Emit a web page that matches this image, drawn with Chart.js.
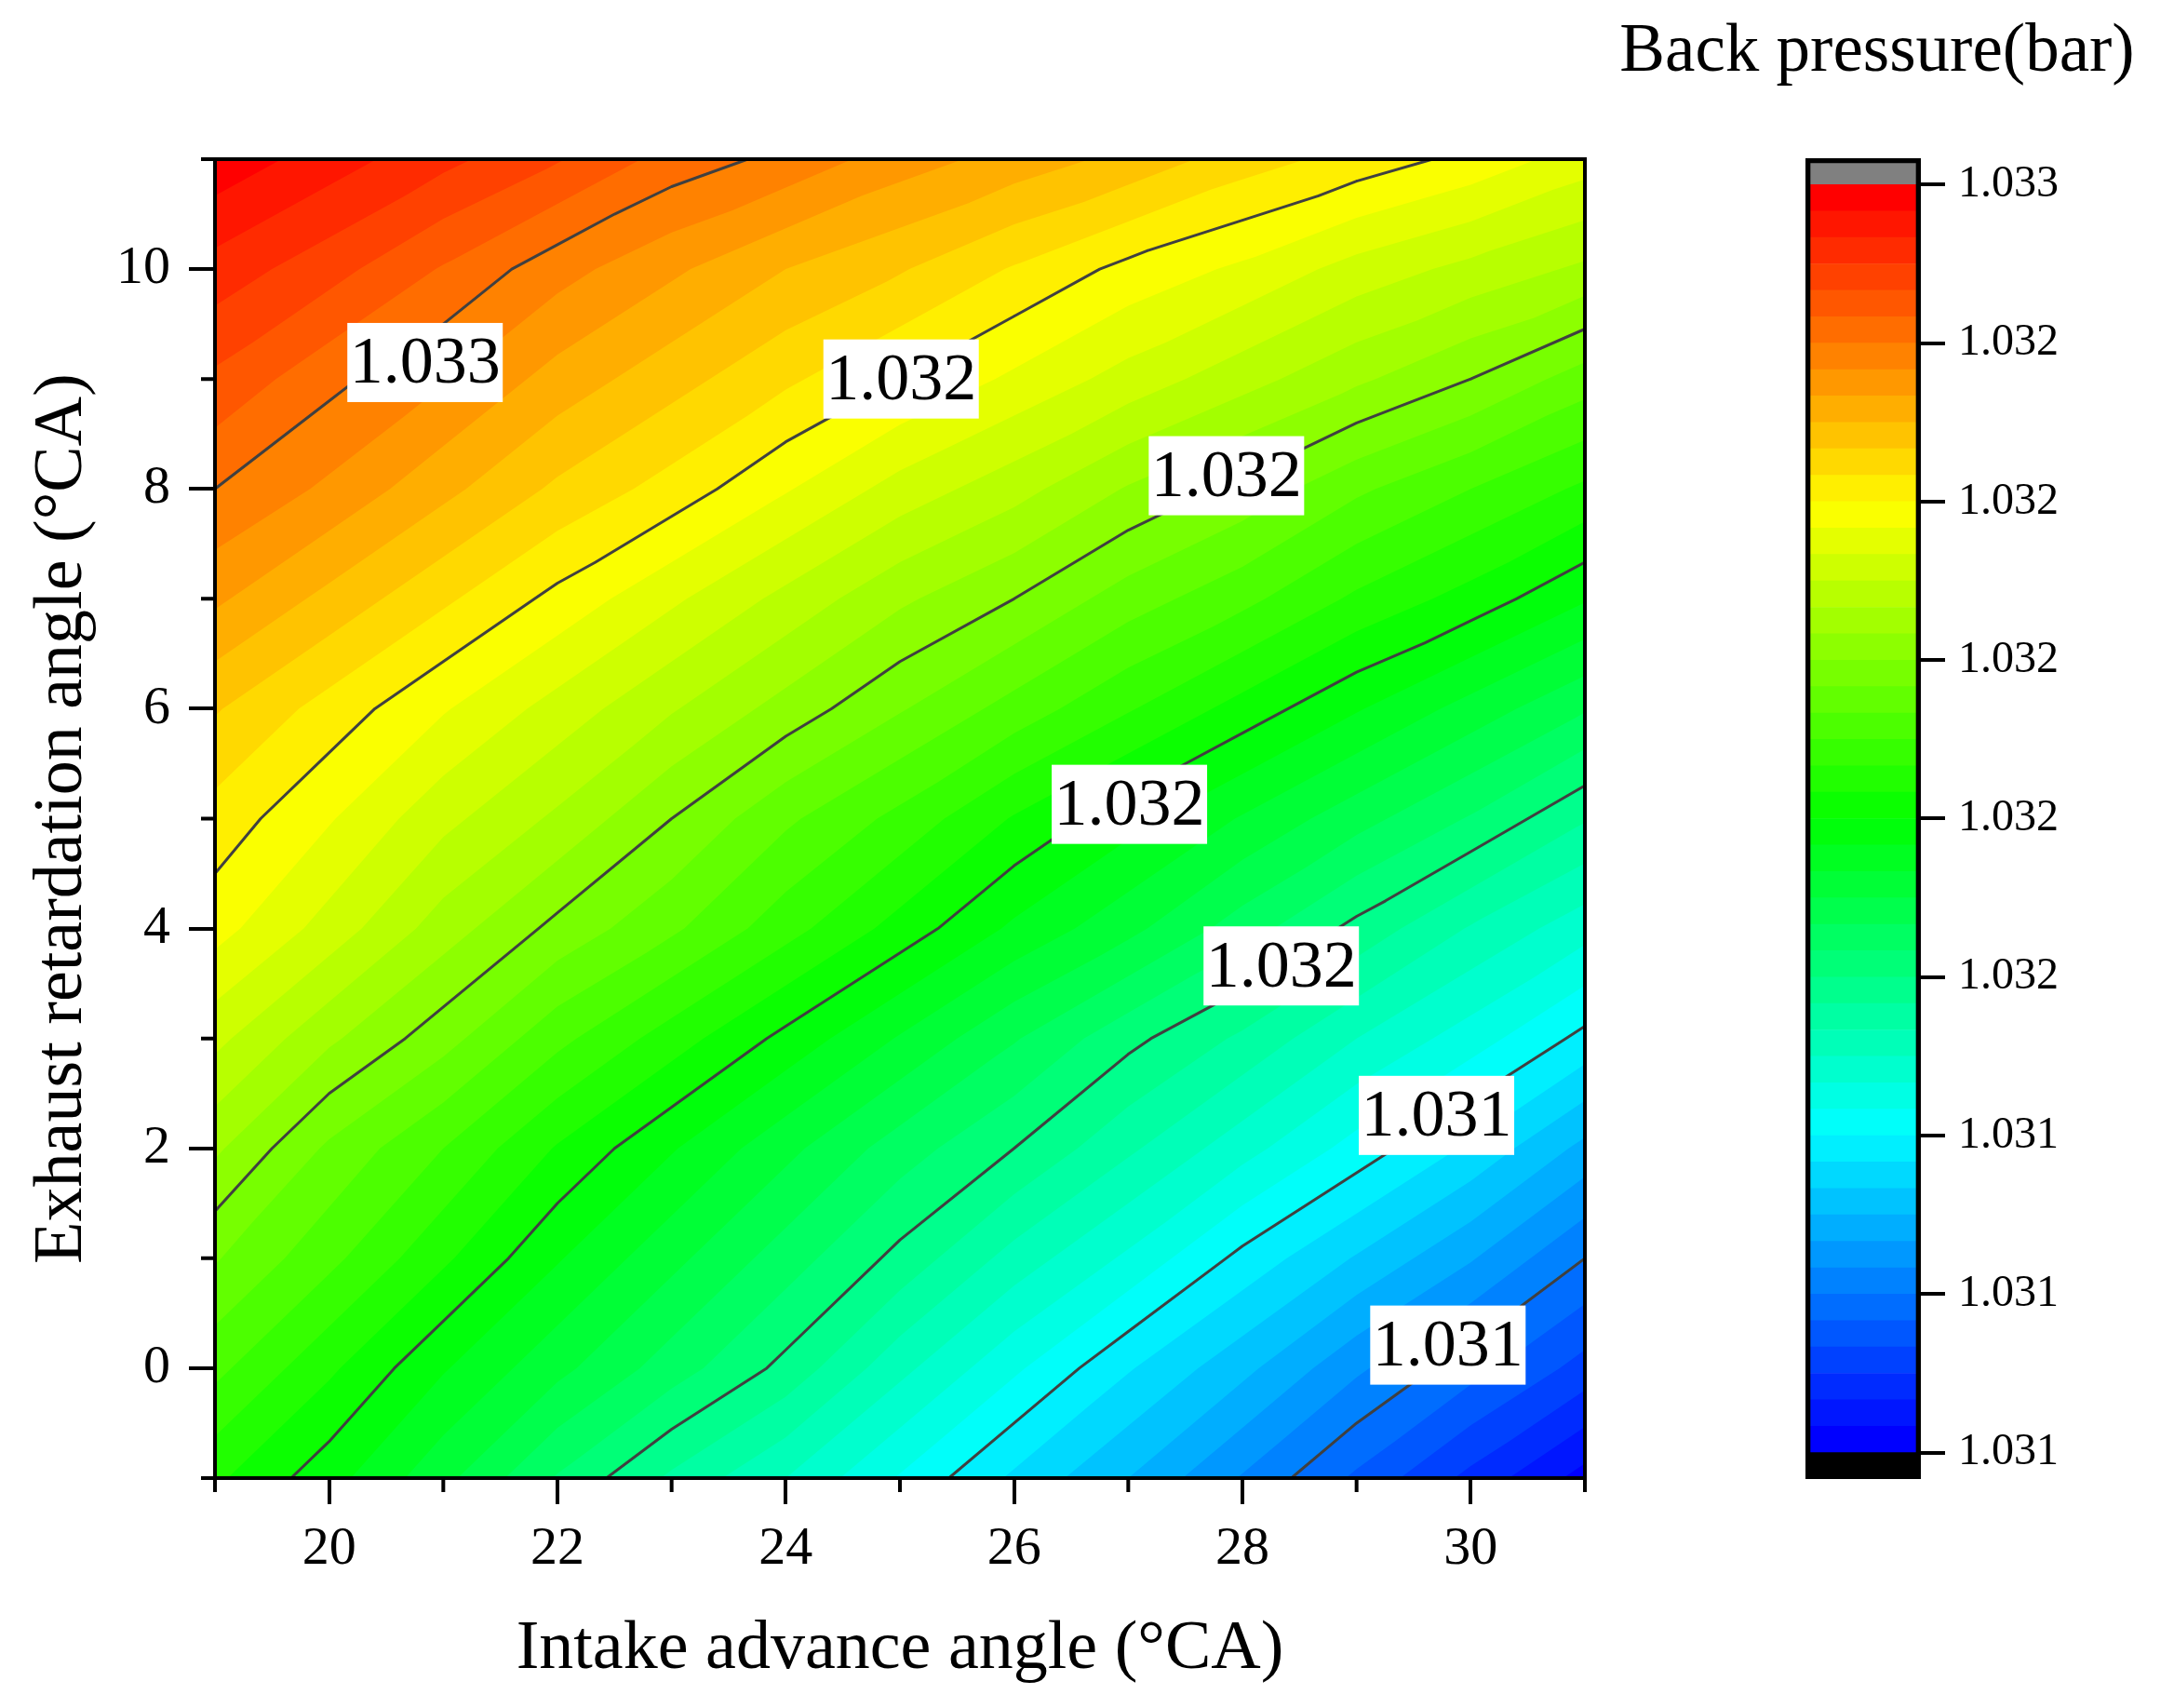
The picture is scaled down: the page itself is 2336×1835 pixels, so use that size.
<!DOCTYPE html>
<html>
<head>
<meta charset="utf-8">
<title>Back pressure contour</title>
<script src="https://cdn.jsdelivr.net/npm/chart.js@4.4.1/dist/chart.umd.min.js"></script>
<style>
  html, body { margin: 0; padding: 0; background: #fff; }
  #wrap { position: relative; width: 2336px; height: 1835px; overflow: hidden; }
  #plotCanvas { position: absolute; left: 0; top: 0; }
  #barCanvas { position: absolute; left: 1700px; top: 0; }
</style>
</head>
<body>
<div id="wrap">
  <canvas id="plotCanvas" width="1800" height="1835"></canvas>
  <canvas id="barCanvas" width="636" height="1835"></canvas>
</div>
<script>
// grid axes
const intakeAngles = [19, 20, 21, 22, 23, 24, 25, 26, 27, 28, 29, 30, 31];
const exhaustAngles = [-1, 0, 1, 2, 3, 4, 5, 6, 7, 8, 9, 10, 11];

// back pressure (bar), one row per exhaust angle, columns follow intakeAngles
const backPressure = [
    [1.03184, 1.03178, 1.03171, 1.03163, 1.03156, 1.03150, 1.03143, 1.03136, 1.03130, 1.03123, 1.03116, 1.03109, 1.03102], // -1
    [1.03191, 1.03184, 1.03177, 1.03171, 1.03165, 1.03159, 1.03151, 1.03144, 1.03137, 1.03131, 1.03124, 1.03118, 1.03112], // 0
    [1.03197, 1.03191, 1.03184, 1.03177, 1.03171, 1.03165, 1.03159, 1.03152, 1.03146, 1.03139, 1.03133, 1.03127, 1.03120], // 1
    [1.03204, 1.03196, 1.03190, 1.03183, 1.03177, 1.03171, 1.03165, 1.03160, 1.03154, 1.03148, 1.03142, 1.03136, 1.03129], // 2
    [1.03211, 1.03204, 1.03198, 1.03191, 1.03185, 1.03179, 1.03173, 1.03167, 1.03161, 1.03156, 1.03150, 1.03145, 1.03139], // 3
    [1.03218, 1.03212, 1.03205, 1.03199, 1.03194, 1.03188, 1.03182, 1.03176, 1.03171, 1.03165, 1.03159, 1.03153, 1.03148], // 4
    [1.03222, 1.03217, 1.03211, 1.03206, 1.03200, 1.03194, 1.03189, 1.03183, 1.03178, 1.03173, 1.03168, 1.03163, 1.03157], // 5
    [1.03227, 1.03222, 1.03217, 1.03212, 1.03207, 1.03202, 1.03197, 1.03192, 1.03187, 1.03182, 1.03177, 1.03172, 1.03167], // 6
    [1.03234, 1.03229, 1.03224, 1.03219, 1.03214, 1.03209, 1.03204, 1.03200, 1.03195, 1.03191, 1.03186, 1.03182, 1.03177], // 7
    [1.03240, 1.03236, 1.03231, 1.03226, 1.03222, 1.03217, 1.03212, 1.03208, 1.03203, 1.03199, 1.03194, 1.03190, 1.03186], // 8
    [1.03246, 1.03241, 1.03237, 1.03232, 1.03228, 1.03224, 1.03220, 1.03216, 1.03212, 1.03208, 1.03204, 1.03200, 1.03195], // 9
    [1.03252, 1.03248, 1.03243, 1.03238, 1.03234, 1.03230, 1.03227, 1.03223, 1.03219, 1.03216, 1.03212, 1.03209, 1.03206], // 10
    [1.03259, 1.03255, 1.03251, 1.03247, 1.03242, 1.03239, 1.03235, 1.03232, 1.03229, 1.03225, 1.03222, 1.03219, 1.03215]  // 11
];

// axis ticks
const xMajorTicks = [20, 22, 24, 26, 28, 30];
const xMinorTicks = [19, 21, 23, 25, 27, 29, 31];
const yMajorTicks = [0, 2, 4, 6, 8, 10];
const yMinorTicks = [-1, 1, 3, 5, 7, 9, 11];

// contour lines and their labels
const lineLevels = [1.0312, 1.0314, 1.0316, 1.0318, 1.0320, 1.0322, 1.0324];
const lineLabelText = ['1.031', '1.031', '1.032', '1.032', '1.032', '1.032', '1.033'];
const lineLabelX = [29.80, 29.70, 28.34, 27.01, 27.86, 25.01, 20.84];
const lineLabelY = [0.21, 2.30, 3.66, 5.13, 8.12, 9.00, 9.15];

// color scale
const colorMin = 1.0310;
const colorMax = 1.0326;
const colorLevels = 48;
const scaleTickValues = [1.0310, 1.0312, 1.0314, 1.0316, 1.0318, 1.0320, 1.0322, 1.0324, 1.0326];
const scaleTickLabels = ['1.031', '1.031', '1.031', '1.032', '1.032', '1.032', '1.032', '1.032', '1.033'];
const mapStops = [0, 0.25, 0.5, 0.75, 1];
const mapColors = [[0, 0, 255], [0, 255, 255], [0, 255, 0], [255, 255, 0], [255, 0, 0]];

const FONT = 'Liberation Serif';
const levelStep = (colorMax - colorMin) / colorLevels;

function mapColor(t) {
    let i = 0;
    while (i < mapStops.length - 2 && t > mapStops[i + 1]) i++;
    const f = Math.min(1, Math.max(0, (t - mapStops[i]) / (mapStops[i + 1] - mapStops[i])));
    const c = mapColors[i].map((v, k) => Math.round(v + f * (mapColors[i + 1][k] - v)));
    return `rgb(${c[0]}, ${c[1]}, ${c[2]})`;
}
const bandColor = k => mapColor(k / (colorLevels - 1));

// triangles of the grid
const triangles = [];
for (let j = 0; j < exhaustAngles.length - 1; j++) {
    for (let i = 0; i < intakeAngles.length - 1; i++) {
        const p = (ii, jj) => ({ x: intakeAngles[ii], y: exhaustAngles[jj], z: backPressure[jj][ii] });
        const a = p(i, j), b = p(i + 1, j), c = p(i + 1, j + 1), d = p(i, j + 1);
        triangles.push([a, b, c], [a, c, d]);
    }
}

// part of a triangle where value >= level
function clipAbove(tri, level) {
    const out = [];
    for (let k = 0; k < tri.length; k++) {
        const p = tri[k], q = tri[(k + 1) % tri.length];
        const pin = p.z >= level, qin = q.z >= level;
        if (pin) out.push(p);
        if (pin !== qin) {
            const t = (level - p.z) / (q.z - p.z);
            out.push({ x: p.x + t * (q.x - p.x), y: p.y + t * (q.y - p.y) });
        }
    }
    return out;
}

// contour segments for one level, separated by gaps
function contourPoints(level) {
    const pts = [];
    triangles.forEach(tri => {
        const seg = [];
        for (let k = 0; k < 3; k++) {
            const p = tri[k], q = tri[(k + 1) % 3];
            if ((p.z >= level) !== (q.z >= level)) {
                const t = (level - p.z) / (q.z - p.z);
                seg.push({ x: p.x + t * (q.x - p.x), y: p.y + t * (q.y - p.y) });
            }
        }
        if (seg.length === 2) pts.push(seg[0], seg[1], { x: null, y: null });
    });
    return pts;
}

// filled contour bands
const contourFill = {
    id: 'contourFill',
    beforeDatasetsDraw(chart) {
        const { ctx, chartArea: a, scales: { x, y } } = chart;
        ctx.save();
        ctx.beginPath();
        ctx.rect(a.left, a.top, a.width, a.height);
        ctx.clip();
        ctx.fillStyle = '#000';
        ctx.fillRect(a.left, a.top, a.width, a.height);
        for (let k = 0; k <= colorLevels; k++) {
            const level = colorMin + k * levelStep;
            ctx.beginPath();
            triangles.forEach(tri => {
                const poly = clipAbove(tri, level);
                if (poly.length < 3) return;
                poly.forEach((pt, n) => {
                    const px = x.getPixelForValue(pt.x), py = y.getPixelForValue(pt.y);
                    if (n === 0) ctx.moveTo(px, py); else ctx.lineTo(px, py);
                });
                ctx.closePath();
            });
            ctx.fillStyle = k === colorLevels ? 'rgb(128, 128, 128)' : bandColor(k);
            ctx.fill();
        }
        ctx.restore();
    }
};

// labels on contour lines, frame and minor ticks
const plotDecor = {
    id: 'plotDecor',
    afterDatasetsDraw(chart) {
        const { ctx, scales: { x, y } } = chart;
        ctx.save();
        ctx.font = `72px "${FONT}"`;
        ctx.textAlign = 'center';
        ctx.textBaseline = 'middle';
        lineLabelText.forEach((txt, i) => {
            const px = x.getPixelForValue(lineLabelX[i]);
            const py = y.getPixelForValue(lineLabelY[i]);
            const w = 167, h = 85;
            ctx.fillStyle = '#fff';
            ctx.fillRect(px - w / 2, py - h / 2, w, h);
            ctx.fillStyle = '#000';
            ctx.fillText(txt, px, py + 3);
        });
        ctx.restore();
    },
    afterDraw(chart) {
        const { ctx, chartArea: a, scales: { x, y } } = chart;
        ctx.save();
        ctx.strokeStyle = '#000';
        ctx.lineWidth = 4;
        ctx.strokeRect(a.left, a.top, a.width, a.height);
        ctx.beginPath();
        xMinorTicks.forEach(v => {
            const px = x.getPixelForValue(v);
            ctx.moveTo(px, a.bottom);
            ctx.lineTo(px, a.bottom + 15);
        });
        yMinorTicks.forEach(v => {
            const py = y.getPixelForValue(v);
            ctx.moveTo(a.left - 15, py);
            ctx.lineTo(a.left, py);
        });
        ctx.stroke();
        ctx.restore();
    }
};

const plotChart = new Chart(document.getElementById('plotCanvas'), {
    type: 'scatter',
    data: {
        datasets: lineLevels.map(level => ({
            data: contourPoints(level),
            showLine: true,
            spanGaps: false,
            borderColor: 'rgb(64, 64, 64)',
            borderWidth: 3,
            borderCapStyle: 'round',
            borderJoinStyle: 'round',
            pointRadius: 0
        }))
    },
    options: {
        responsive: false,
        animation: false,
        layout: { padding: { left: 23, top: 171, right: 97, bottom: 0 } },
        plugins: { legend: { display: false }, tooltip: { enabled: false } },
        scales: {
            x: {
                type: 'linear', min: 19, max: 31,
                afterBuildTicks: s => { s.ticks = xMajorTicks.map(v => ({ value: v })); },
                afterFit: s => { s.height = 247; },
                grid: { drawOnChartArea: false, drawTicks: true, tickLength: 28, lineWidth: 4, color: '#000' },
                border: { display: true, width: 4, color: '#000' },
                ticks: { font: { family: FONT, size: 58 }, color: '#000', padding: 14, maxRotation: 0 },
                title: { display: true, text: 'Intake advance angle (°CA)', font: { family: FONT, size: 74 }, color: '#000', padding: { top: 0, bottom: 18 } }
            },
            y: {
                type: 'linear', min: -1, max: 11,
                afterBuildTicks: s => { s.ticks = yMajorTicks.map(v => ({ value: v })); },
                afterFit: s => { s.width = 208; },
                grid: { drawOnChartArea: false, drawTicks: true, tickLength: 28, lineWidth: 4, color: '#000' },
                border: { display: true, width: 4, color: '#000' },
                ticks: { font: { family: FONT, size: 58 }, color: '#000', padding: 20 },
                title: { display: true, text: 'Exhaust retardation angle (°CA)', font: { family: FONT, size: 74 }, color: '#000', padding: { top: 0, bottom: 0 } }
            }
        }
    },
    plugins: [contourFill, plotDecor]
});

// color scale bar: outline first so it is drawn on top
const bandSets = [];
bandSets.push({ data: [[colorMin - levelStep, colorMax + levelStep]], backgroundColor: 'rgba(0,0,0,0)', borderColor: '#000', borderWidth: 5, borderSkipped: false });
bandSets.push({ data: [[colorMin - levelStep, colorMin]], backgroundColor: '#000' });
for (let k = 0; k < colorLevels; k++) {
    bandSets.push({ data: [[colorMin + k * levelStep, colorMin + (k + 1) * levelStep]], backgroundColor: bandColor(k) });
}
bandSets.push({ data: [[colorMax, colorMax + levelStep]], backgroundColor: 'rgb(128, 128, 128)' });
bandSets.forEach(d => { d.grouped = false; d.barPercentage = 1; d.categoryPercentage = 1; });

const scaleTitle = {
    id: 'scaleTitle',
    afterDraw(chart) {
        const { ctx, chartArea: a } = chart;
        ctx.save();
        ctx.font = `73px "${FONT}"`;
        ctx.fillStyle = '#000';
        ctx.textAlign = 'center';
        ctx.textBaseline = 'alphabetic';
        ctx.fillText('Back pressure(bar)', (a.left + a.right) / 2 + 15, a.top - 94);
        ctx.restore();
    }
};

const barChart = new Chart(document.getElementById('barCanvas'), {
    type: 'bar',
    data: { labels: [''], datasets: bandSets },
    options: {
        responsive: false,
        animation: false,
        layout: { padding: { left: 240, top: 170, right: 0, bottom: 246 } },
        plugins: { legend: { display: false }, tooltip: { enabled: false } },
        scales: {
            x: { display: false },
            y: {
                position: 'right',
                min: colorMin - levelStep, max: colorMax + levelStep,
                afterBuildTicks: s => { s.ticks = scaleTickValues.map(v => ({ value: v })); },
                afterFit: s => { s.width = 272; },
                grid: { drawOnChartArea: false, drawTicks: true, tickLength: 26, lineWidth: 4, color: '#000' },
                border: { display: false },
                ticks: { font: { family: FONT, size: 48 }, color: '#000', padding: 14, callback: (v, i) => scaleTickLabels[i] }
            }
        }
    },
    plugins: [scaleTitle]
});
</script>
</body>
</html>
